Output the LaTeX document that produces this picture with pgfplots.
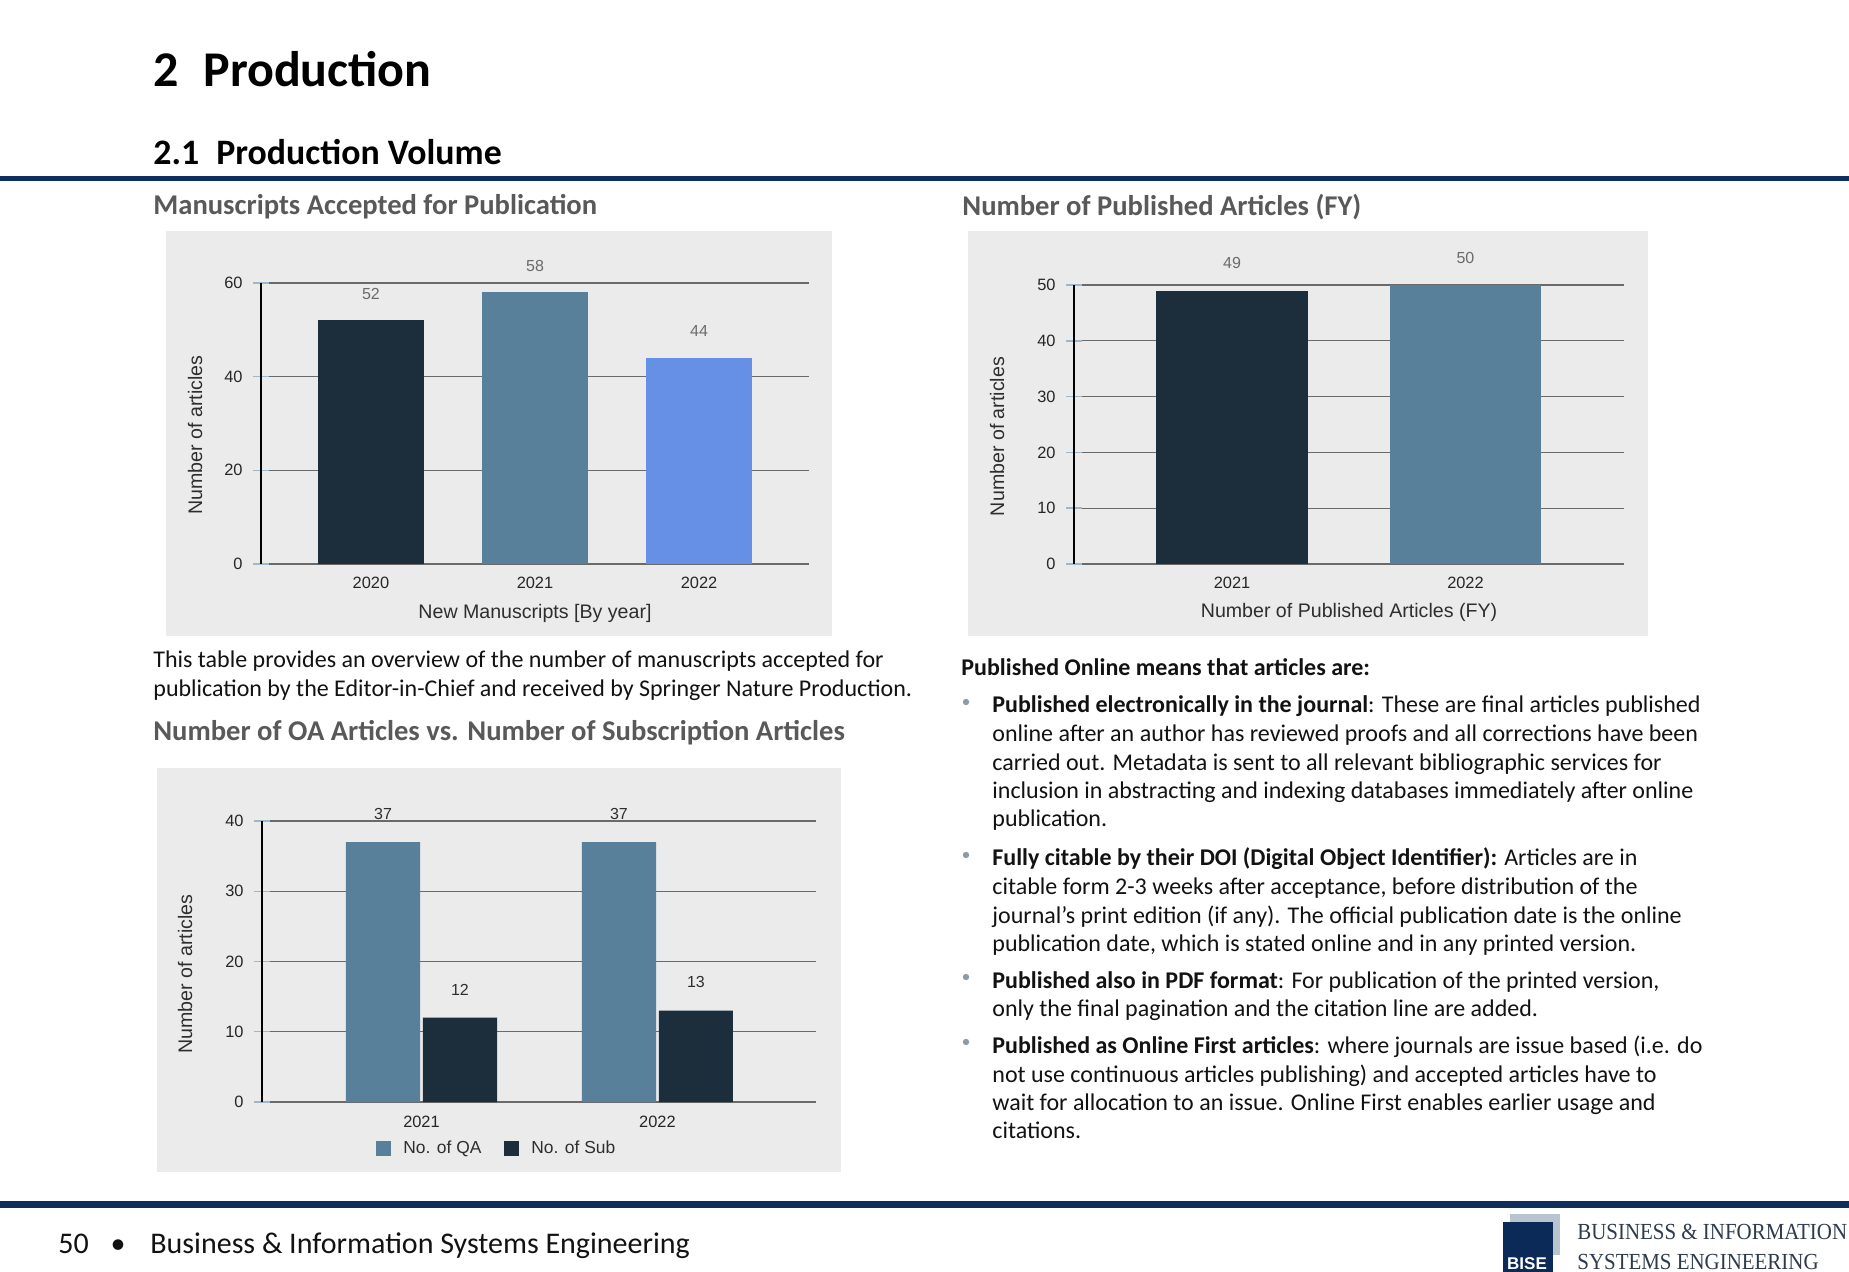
\documentclass[border=0pt]{standalone}
\usepackage{fontspec}
\setmainfont{Carlito}
\newfontfamily\chartfont{Liberation Sans}
\newfontfamily\logofont{Liberation Serif}
\usepackage{pgfplots}
\pgfplotsset{compat=1.18}

\definecolor{bggray}{HTML}{EBEBEC}
\definecolor{bardark}{HTML}{1C2E3B}
\definecolor{barsteel}{HTML}{58809B}
\definecolor{barblue}{HTML}{6690E6}
\definecolor{gridgray}{HTML}{6A6A6A}
\definecolor{tickblue}{HTML}{9DB7CE}
\definecolor{ticktext}{HTML}{262626}
\definecolor{labeltext}{HTML}{2E2E2E}
\definecolor{valgray}{HTML}{6B6B6B}
\definecolor{headgray}{HTML}{595959}
\definecolor{rulenavy}{HTML}{0E2F5C}
\definecolor{bodytext}{HTML}{121212}
\definecolor{bulletgray}{HTML}{8E9AA6}
\definecolor{logogray}{HTML}{B8C4CF}
\definecolor{logonavy}{HTML}{0C2A57}
\definecolor{logotext}{HTML}{2E3B4E}

\newcommand\setfs[1]{\fontsize{#1}{#1}\selectfont}

\pgfplotsset{
  sheet/.style={
    scale only axis, anchor=south west, clip=false,
    axis x line*=bottom, axis y line*=left,
    x axis line style={draw=none},
    y axis line style={draw=black, line width=0.55pt},
    ymajorgrids, major grid style={draw=gridgray, line width=0.65pt},
    tick align=center, major tick length=8pt,
    ytick style={draw=tickblue, line width=0.7pt},
    xtick style={draw=none},
    /pgf/number format/assume math mode=true,
    tick label style={font=\chartfont\setfs{8.2pt}, text=ticktext, inner sep=0pt},
    yticklabel style={anchor=east, xshift=-5pt},
    xticklabel style={anchor=base, yshift=-8.5pt},
    label style={font=\chartfont\setfs{9.8pt}, text=labeltext, inner sep=0pt},
    xlabel style={at={(axis description cs:0.5,0)}, anchor=base, yshift=-27.5pt},
  },
  vals/.style={
    nodes near coords,
    every node near coord/.append style={font=\chartfont\setfs{8pt}, text=#1, anchor=south, inner sep=0pt},
  },
}

\begin{document}
\begin{tikzpicture}
% ---------- page layout (coordinates in pixels, y downwards) ----------
\begin{scope}[x=0.5pt,y=-0.5pt]
\useasboundingbox (0,0) rectangle (1849,1272);
\fill[white] (0,0) rectangle (1849,1272);

% headings
\node[anchor=base west, inner sep=0pt] at (153,87) {\setfs{25pt}\bfseries 2};
\node[anchor=base west, inner sep=0pt] at (203,87) {\setfs{25pt}\bfseries Production};
\node[anchor=base west, inner sep=0pt] at (153,165) {\setfs{17.9pt}\bfseries 2.1};
\node[anchor=base west, inner sep=0pt] at (216,165) {\setfs{17.9pt}\bfseries Production Volume};
\fill[rulenavy] (0,176) rectangle (1849,181);

\node[anchor=base west, inner sep=0pt, text=headgray] at (153,215) {\setfs{14.3pt}\bfseries Manuscripts Accepted for Publication};
\node[anchor=base west, inner sep=0pt, text=headgray] at (962,216) {\setfs{14.3pt}\bfseries Number of Published Articles (FY)};
\node[anchor=base west, inner sep=0pt, text=headgray] at (153,741) {\setfs{14.3pt}\bfseries Number of OA Articles vs. Number of Subscription Articles};

% chart panels
\fill[bggray] (166,231) rectangle (832,636);
\fill[bggray] (968,231) rectangle (1648,636);
\fill[bggray] (157,768) rectangle (841,1172);

% left paragraph
\begin{scope}[every node/.style={anchor=base west, inner sep=0pt, text=bodytext, font=\setfs{12pt}}]
\node at (153,668) {This table provides an overview of the number of manuscripts accepted for};
\node at (153,697) {publication by the Editor-in-Chief and received by Springer Nature Production.};

% right column
\node at (961,676) {\bfseries Published Online means that articles are:};
\node at (992,713) {\textbf{Published electronically in the journal}: These are final articles published};
\node at (992,742) {online after an author has reviewed proofs and all corrections have been};
\node at (992,771) {carried out. Metadata is sent to all relevant bibliographic services for};
\node at (992,799) {inclusion in abstracting and indexing databases immediately after online};
\node at (992,827) {publication.};
\node at (992,866) {\textbf{Fully citable by their DOI (Digital Object Identifier):} Articles are in};
\node at (992,894) {citable form 2-3 weeks after acceptance, before distribution of the};
\node at (992,923) {journal’s print edition (if any). The official publication date is the online};
\node at (992,951) {publication date, which is stated online and in any printed version.};
\node at (992,988) {\textbf{Published also in PDF format}: For publication of the printed version,};
\node at (992,1016) {only the final pagination and the citation line are added.};
\node at (992,1053) {\textbf{Published as Online First articles}: where journals are issue based (i.e. do};
\node at (992,1082) {not use continuous articles publishing) and accepted articles have to};
\node at (992,1110) {wait for allocation to an issue. Online First enables earlier usage and};
\node at (992,1138) {citations.};
\end{scope}
\foreach \by in {702,855,977,1042} \fill[bulletgray] (966,\by) circle (3.2);

% footer
\fill[rulenavy] (0,1201) rectangle (1849,1208);
\begin{scope}[every node/.style={anchor=base west, inner sep=0pt, text=bodytext, font=\setfs{15pt}}]
\node at (58,1253) {50};
\node[anchor=base] at (118,1253) {•};
\node at (150,1253) {Business \& Information Systems Engineering};
\end{scope}
\fill[logogray] (1510,1214) rectangle (1560,1255);
\fill[logonavy] (1503,1222) rectangle (1553,1272);
\node[anchor=base, inner sep=0pt, text=white] at (1527,1269) {\chartfont\setfs{8.5pt}\bfseries BISE};
\node[anchor=base west, inner sep=0pt, text=logotext, xscale=0.91] at (1577,1239) {\logofont\setfs{11.5pt}BUSINESS \& INFORMATION};
\node[anchor=base west, inner sep=0pt, text=logotext, xscale=0.91] at (1577,1269) {\logofont\setfs{11.5pt}SYSTEMS ENGINEERING};
\end{scope}

% ---------- Manuscripts accepted for publication ----------
\begin{axis}[sheet,
  at={(130.5pt,-282pt)}, width=274pt, height=140.5pt,
  xmin=-0.67, xmax=2.67, ymin=0, ymax=60,
  ytick={0,20,40,60}, xtick={0,1,2}, xticklabels={2020,2021,2022},
  xlabel={New Manuscripts [By year]},
  ylabel={Number of articles},
  ylabel style={at={(axis description cs:0,0.459)}, anchor=center, yshift=33pt},
  every node near coord/.append style={yshift=10.4pt},
]
\addplot[ybar, bar width=0.646, bar shift=0, fill=bardark, draw=none, vals=valgray] coordinates {(0,52)};
\addplot[ybar, bar width=0.646, bar shift=0, fill=barsteel, draw=none, vals=valgray] coordinates {(1,58)};
\addplot[ybar, bar width=0.646, bar shift=0, fill=barblue, draw=none, vals=valgray] coordinates {(2,44)};
\end{axis}

% ---------- Number of published articles (FY) ----------
\begin{axis}[sheet,
  at={(537pt,-282pt)}, width=275pt, height=139.5pt,
  xmin=-0.677, xmax=1.679, ymin=0, ymax=50,
  ytick={0,10,20,30,40,50}, xtick={0,1}, xticklabels={2021,2022},
  xlabel={Number of Published Articles (FY)},
  xlabel style={yshift=0.5pt},
  ylabel={Number of articles},
  ylabel style={at={(axis description cs:0,0.457)}, anchor=center, yshift=38.5pt},
  every node near coord/.append style={yshift=10.6pt},
]
\addplot[ybar, bar width=0.651, bar shift=0, fill=bardark, draw=none, vals=valgray] coordinates {(0,49)};
\addplot[ybar, bar width=0.651, bar shift=0, fill=barsteel, draw=none, vals=valgray] coordinates {(1,50)};
\end{axis}

% ---------- OA vs. subscription articles (bars sit either side of each year) ----------
\begin{axis}[sheet,
  at={(131pt,-551pt)}, width=277pt, height=140.5pt,
  xmin=-0.676, xmax=1.672, ymin=0, ymax=40,
  ytick={0,10,20,30,40}, xtick={0,1}, xticklabels={2021,2022},
  ylabel={Number of articles},
  ylabel style={at={(axis description cs:0,0.455)}, anchor=center, yshift=38.5pt},
  every node near coord/.append style={yshift=11.1pt},
  legend image code/.code={\fill[#1] (0pt,-3.75pt) rectangle (7.5pt,3.75pt);},
  legend columns=2,
  legend style={at={(axis description cs:0.2058,-0.1655)}, anchor=west,
    draw=none, fill=none, inner sep=0pt, nodes={inner sep=0pt},
    font=\chartfont\setfs{8.7pt}, text=labeltext, cells={anchor=west}},
]
\addplot[ybar, bar width=0.314, bar shift=0, fill=barsteel, draw=none, vals=labeltext] coordinates {(-0.163,37) (0.837,37)};
\addlegendentry{\hspace{6pt}No. of QA\hspace{11.5pt}\mbox{}}
\addplot[ybar, bar width=0.314, bar shift=0, fill=bardark, draw=none, vals=labeltext] coordinates {(0.163,12) (1.163,13)};
\addlegendentry{\hspace{6pt}No. of Sub}
\end{axis}
\end{tikzpicture}
\end{document}
